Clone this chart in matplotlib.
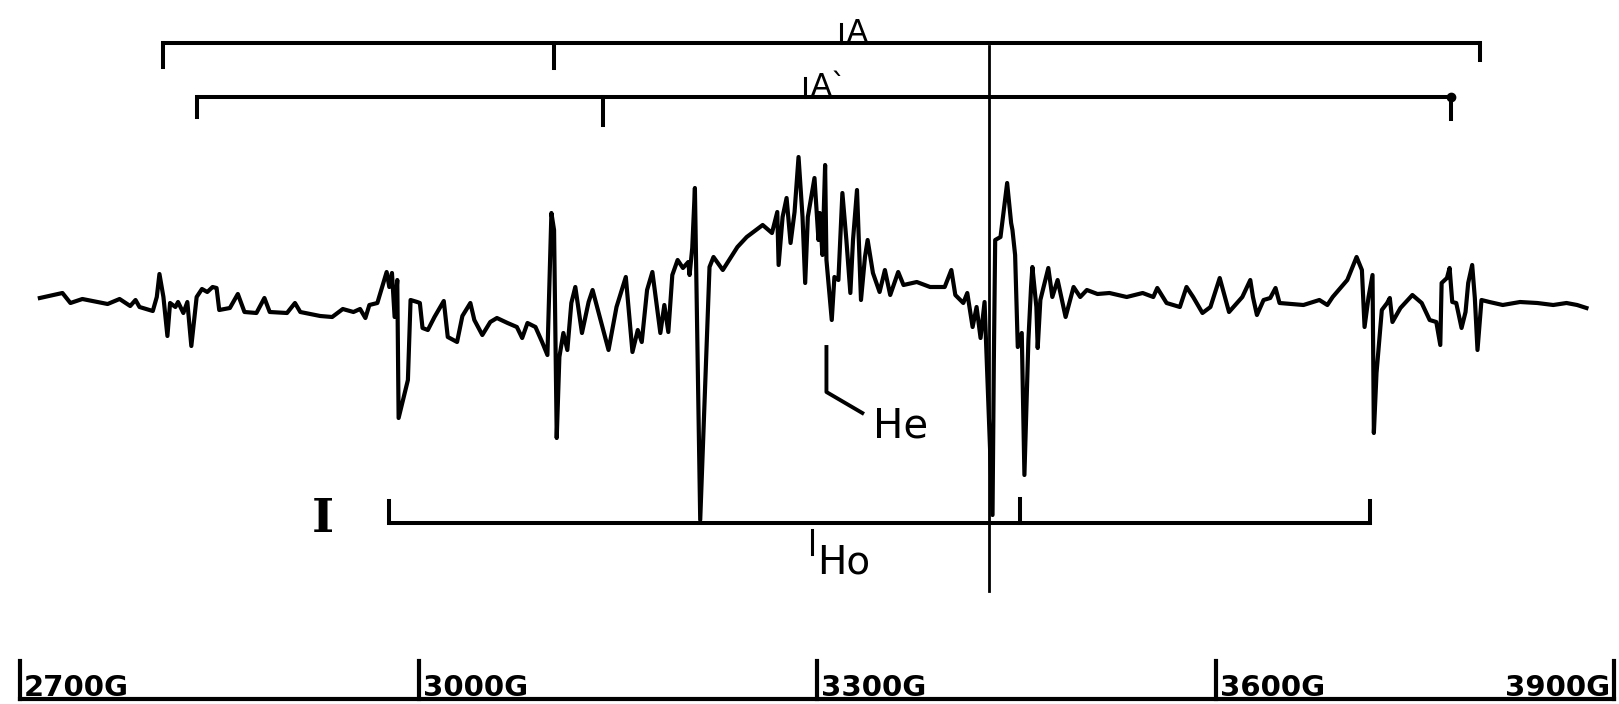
import matplotlib
matplotlib.use("Agg")
import matplotlib.pyplot as plt

# EPR trace: field (gauss) vs. derivative signal (a.u.)
field_g = [2715, 2732, 2738, 2747, 2766, 2775, 2783, 2787, 2790, 2800,
           2803, 2805, 2808, 2811, 2813, 2817, 2819, 2823, 2826, 2829,
           2833, 2837, 2841, 2845, 2848, 2850, 2858, 2864, 2869, 2878,
           2884, 2888, 2901, 2907, 2911, 2926, 2935, 2943, 2951, 2956,
           2960, 2963, 2969, 2976, 2978, 2980, 2982, 2984, 2985, 2992,
           2994, 2999, 3001, 3003, 3007, 3012, 3019, 3022, 3029, 3033,
           3039, 3042, 3048, 3054, 3059, 3067, 3074, 3078, 3082, 3088,
           3093, 3097, 3100, 3102, 3104, 3106, 3109, 3112, 3115, 3118,
           3123, 3128, 3131, 3135, 3138, 3143, 3149, 3156, 3161, 3165,
           3168, 3172, 3176, 3182, 3185, 3188, 3191, 3195, 3199, 3203,
           3204, 3206, 3208, 3212, 3217, 3219, 3222, 3229, 3240, 3247,
           3259, 3266, 3270, 3271, 3274, 3277, 3280, 3283, 3286, 3289,
           3291, 3293, 3298, 3301, 3302, 3304, 3306, 3307, 3311, 3313,
           3316, 3319, 3322, 3325, 3327, 3330, 3333, 3336, 3338, 3342,
           3347, 3351, 3355, 3361, 3365, 3375, 3385, 3396, 3401, 3404,
           3410, 3413, 3417, 3420, 3423, 3426, 3432, 3433, 3434, 3438,
           3443, 3446, 3447, 3449, 3451, 3454, 3456, 3459, 3461, 3462,
           3465, 3466, 3468, 3474, 3477, 3481, 3487, 3493, 3498, 3503,
           3511, 3520, 3533, 3545, 3553, 3556, 3563, 3573, 3578, 3583,
           3590, 3596, 3603, 3610, 3616, 3620, 3626, 3628, 3631, 3636,
           3641, 3645, 3648, 3666, 3678, 3684, 3688, 3699, 3706, 3710,
           3712, 3715, 3718, 3719, 3721, 3725, 3729, 3731, 3733, 3739,
           3748, 3755, 3761, 3766, 3769, 3770, 3774, 3776, 3778, 3781,
           3785, 3788, 3790, 3793, 3795, 3797, 3800, 3806, 3816, 3829,
           3842, 3854, 3864, 3872, 3879]
signal = [2, 7, -3, 1, -4, 1, -6, 0, -7, -11,
          3, 26, 3, -36, -3, -7, -2, -13, -2, -46,
          3, 11, 8, 13, 12, -10, -8, 6, -12, -13,
          2, -12, -13, -3, -12, -16, -17, -9, -12, -9,
          -18, -5, -3, 28, 13, 27, -17, 20, -118, -80,
          0, -2, -3, -28, -30, -17, -1, -37, -42, -16,
          -3, -20, -35, -22, -18, -23, -27, -38, -23, -27,
          -42, -55, 87, 70, -138, -57, -33, -50, -3, 13,
          -33, -2, 10, -10, -25, -50, -7, 23, -52, -30,
          -42, 10, 28, -33, -5, -32, 25, 40, 32, 38,
          25, 52, 112, -220, -40, 33, 43, 30, 53, 63,
          75, 67, 88, 35, 83, 102, 57, 88, 143, 83,
          17, 83, 122, 60, 87, 45, 135, 40, -20, 23,
          20, 107, 60, 7, 60, 110, 0, 43, 60, 27,
          8, 30, 5, 28, 15, 18, 13, 13, 30, 5,
          -3, 7, -27, -7, -38, -2, -215, -60, 60, 63,
          117, 77, 70, 45, -47, -33, -175, -40, 13, 33,
          -7, -48, 0, 32, 3, 20, -17, 13, 3, 10,
          6, 7, 3, 7, 3, 12, -3, -7, 13, 3,
          -13, -7, 22, -12, -3, 3, 20, 3, -15, 0,
          2, 12, -3, -5, 0, -5, 3, 20, 43, 30,
          -27, 3, 25, -133, -73, -10, -3, 2, -22, -8,
          5, -3, -20, -22, -45, 17, 22, 32, -2, -3,
          -28, -12, 17, 35, 2, -50, 0, -2, -5, -2,
          -3, -5, -3, -5, -8]

tick_fields = [2700, 3000, 3300, 3600, 3900]
tick_labels = ["2700G", "3000G", "3300G", "3600G", "3900G"]

# line groups: left end, inner mark, right end (gauss)
group_a = [2808, 3102, 3799]
group_a2 = [2833, 3139, 3777]
group_i = [2978, 3453, 3716]
h0_field = 3429          # long vertical marker
ho_mark = 3296           # small mark by "Ho"
he_mark = 3307           # leader for "He"
a_mark = 3318
a2_mark = 3291

fig = plt.figure(figsize=(16.19, 7.04), dpi=100)
ax = fig.add_axes([0, 0, 1, 1])
ax.set_xlim(2685, 3903.5)
ax.set_ylim(-404, 300)
ax.axis("off")

k = "black"
ax.plot(field_g, signal, color=k, lw=3.0, solid_joinstyle="round")

# A and A' groups
def bracket(ax, pts, y, legs, lw=2.9):
    ax.plot([pts[0], pts[2]], [y, y], color=k, lw=lw, solid_capstyle="round")
    for xp, yl in zip(pts, legs):
        ax.plot([xp, xp], [y, yl], color=k, lw=lw)

bracket(ax, group_a, 257, [233, 232, 240])
bracket(ax, group_a2, 203, [183, 175, 181])
ax.plot(group_a2[2], 203, "o", color=k, ms=6)
bracket(ax, group_i, -223, [-201, -199, -201])

ax.plot([a_mark, a_mark], [257, 276], color=k, lw=2.2)
ax.text(a_mark + 4, 259, "A", fontsize=22, va="baseline", ha="left")
ax.plot([a2_mark, a2_mark], [203, 222], color=k, lw=2.2)
ax.text(a2_mark + 4, 205, "A`", fontsize=22, va="baseline", ha="left")

# H0 vertical
ax.plot([h0_field, h0_field], [254, -291], color=k, lw=2.0)

ax.text(2928, -219, "I", fontsize=34, family="DejaVu Serif", weight="bold",
        ha="center", va="center")

ax.plot([ho_mark, ho_mark], [-230, -254], color=k, lw=2.2)
ax.text(ho_mark + 4, -273, "Ho", fontsize=28, va="baseline", ha="left")

ax.plot([he_mark, he_mark, 3334], [-47, -92, -113], color=k, lw=2.8)
ax.text(3342, -137, "He", fontsize=29, va="baseline", ha="left")

# field scale along the bottom
ax.plot([tick_fields[0], tick_fields[-1]], [-399, -399], color=k, lw=3.0)
for f, lab in zip(tick_fields, tick_labels):
    ax.plot([f, f], [-399, -361], color=k, lw=3.0)
    if f == tick_fields[-1]:
        ax.annotate(lab, (f, -396), xytext=(-3, 0), textcoords="offset points",
                    fontsize=21, weight="bold", ha="right", va="baseline")
    else:
        ax.annotate(lab, (f, -396), xytext=(3, 0), textcoords="offset points",
                    fontsize=21, weight="bold", ha="left", va="baseline")

fig.savefig("out.png", dpi=100, facecolor="white")
